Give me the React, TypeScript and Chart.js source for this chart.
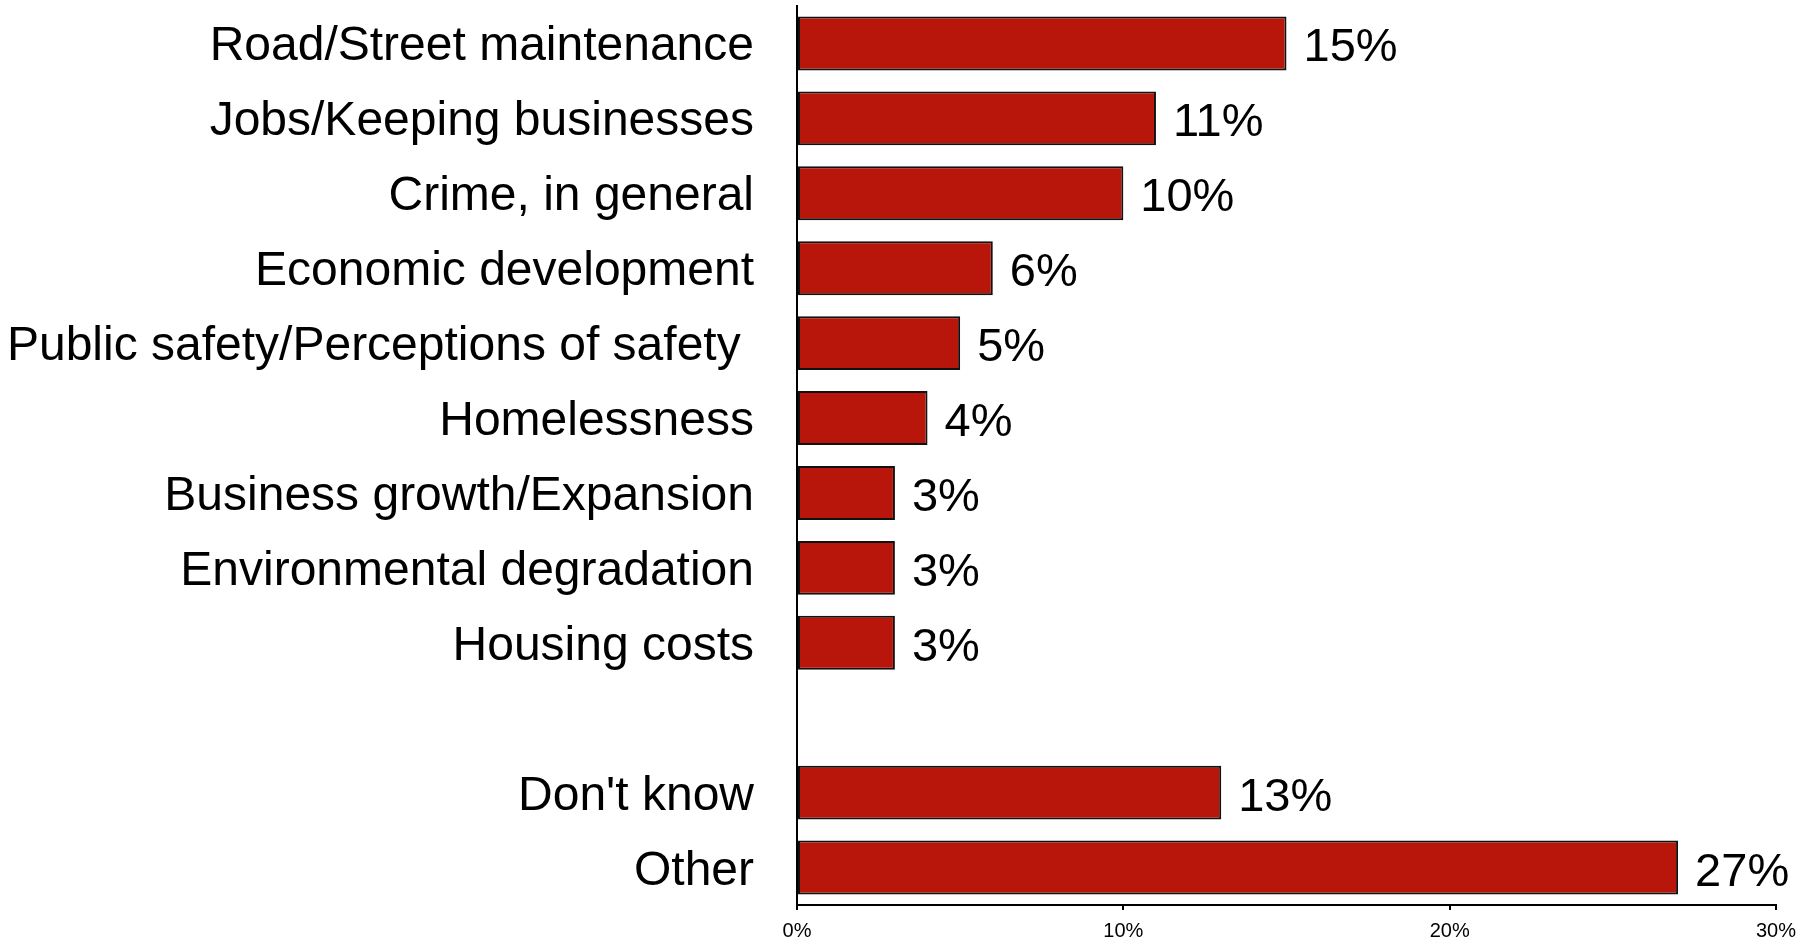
import React, { useEffect, useRef } from "react";
import { Chart, registerables } from "chart.js";

Chart.register(...registerables);

const categories: string[] = [
  "Road/Street maintenance",
  "Jobs/Keeping businesses",
  "Crime, in general",
  "Economic development",
  "Public safety/Perceptions of safety ",
  "Homelessness",
  "Business growth/Expansion",
  "Environmental degradation",
  "Housing costs",
  "",
  "Don't know",
  "Other",
];

const values: (number | null)[] = [15, 11, 10, 6, 5, 4, 3, 3, 3, null, 13, 27];

const xTicks: number[] = [0, 10, 20, 30];

const FONT = "'Liberation Sans', Arial, sans-serif";

const textPlugin = {
  id: "textLabels",
  afterDatasetsDraw(chart: any) {
    const ctx = chart.ctx;
    const meta = chart.getDatasetMeta(0);
    const yScale = chart.scales.y;
    ctx.save();
    ctx.fillStyle = "#000";
    ctx.textBaseline = "alphabetic";
    // value labels
    ctx.font = `47px ${FONT}`;
    ctx.textAlign = "left";
    meta.data.forEach((el: any, i: number) => {
      const v = values[i];
      if (v === null || v === undefined) return;
      ctx.fillText(`${v}%`, el.x + 17, el.y + 18);
    });
    // category labels
    ctx.font = `48px ${FONT}`;
    ctx.textAlign = "right";
    categories.forEach((c, i) => {
      if (!c) return;
      const y = yScale.getPixelForValue(i);
      ctx.fillText(c, yScale.right - 43, y + 17);
    });
    ctx.restore();
  },
};

export default function App() {
  const ref = useRef<HTMLCanvasElement | null>(null);

  useEffect(() => {
    if (!ref.current) return;
    const chart = new Chart(ref.current, {
      type: "bar",
      data: {
        labels: categories,
        datasets: [
          {
            data: values as any,
            backgroundColor: "#B8160A",
            borderColor: "#111",
            borderWidth: 2,
            borderSkipped: false,
            barPercentage: 0.72,
            categoryPercentage: 1,
          },
        ],
      },
      options: {
        indexAxis: "y",
        animation: false,
        responsive: false,
        maintainAspectRatio: false,
        layout: { padding: { top: 6, right: 38, bottom: 0, left: 0 } },
        plugins: {
          legend: { display: false },
          tooltip: { enabled: false },
        },
        scales: {
          x: {
            type: "linear",
            min: 0,
            max: 30,
            afterBuildTicks: (scale: any) => {
              scale.ticks = xTicks.map((v) => ({ value: v }));
            },
            afterFit: (scale: any) => {
              scale.height = 35;
              scale.paddingLeft = 0;
              scale.paddingRight = 0;
            },
            grid: {
              display: true,
              drawOnChartArea: false,
              drawTicks: true,
              tickLength: 5,
              color: "#000",
              lineWidth: 2,
            },
            border: { display: true, color: "#000", width: 2 },
            ticks: {
              color: "#000",
              font: { family: FONT, size: 20 },
              padding: 9,
              maxRotation: 0,
              callback: (v: any) => `${v}%`,
            },
          },
          y: {
            type: "category",
            afterFit: (scale: any) => {
              scale.width = 797;
              scale.paddingTop = 0;
              scale.paddingBottom = 0;
            },
            grid: { display: false, drawTicks: false },
            border: { display: true, color: "#000", width: 2 },
            ticks: { display: false, autoSkip: false },
          },
        },
      },
      plugins: [textPlugin],
    });
    return () => chart.destroy();
  }, []);

  return (
    <div style={{ position: "fixed", left: 0, top: 0, width: 1814, height: 940, background: "#fff" }}>
      <canvas ref={ref} width={1814} height={940} style={{ display: "block", width: 1814, height: 940 }} />
    </div>
  );
}
